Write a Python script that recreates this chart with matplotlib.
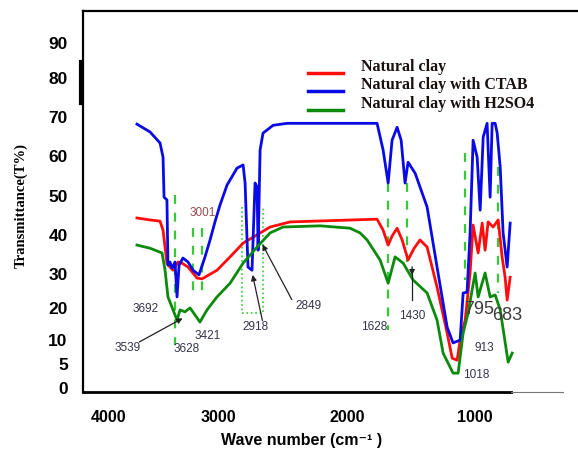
import matplotlib
matplotlib.use("Agg")
import matplotlib.pyplot as plt
from matplotlib.lines import Line2D

# FTIR spectra (wavenumber cm-1, transmittance %)
ctab_x = [3667, 3563, 3484, 3460, 3452, 3429, 3421, 3405, 3389, 3365, 3349, 3333,
          3302, 3262, 3222, 3175, 3127, 3087, 3048, 3008, 2952, 2873, 2825, 2809,
          2786, 2754, 2730, 2714, 2706, 2690, 2667, 2587, 2476, 1762, 1714, 1674,
          1643, 1603, 1571, 1540, 1516, 1460, 1365, 1286, 1206, 1159, 1103, 1079,
          1048, 1024, 1000, 968, 944, 920, 889, 865, 849, 825, 809, 785, 762, 730,
          706]
ctab_y = [68.2, 66.2, 63.4, 59.8, 49.6, 48.9, 32.3, 33.1, 31.5, 33.1, 24.2, 32.3,
          34.1, 33.1, 31.0, 29.8, 34.4, 38.7, 43.3, 47.6, 52.7, 57.0, 57.8, 53.2,
          31.8, 31.0, 53.2, 52.2, 36.1, 61.6, 65.9, 67.9, 68.4, 68.4, 61.6, 53.2,
          64.1, 67.4, 64.1, 53.2, 58.5, 55.7, 47.1, 31.8, 16.5, 12.5, 13.2, 25.2,
          25.4, 40.5, 64.1, 59.8, 46.3, 64.9, 68.4, 49.6, 68.4, 68.4, 65.9, 57.2,
          40.5, 31.8, 43.0]

clay_x = [3667, 3563, 3484, 3460, 3429, 3405, 3381, 3341, 3309, 3262, 3190, 3151,
          3032, 2928, 2825, 2746, 2611, 2452, 1762, 1714, 1674, 1643, 1603, 1563,
          1516, 1468, 1421, 1365, 1286, 1206, 1166, 1127, 1103, 1063, 1024, 1000,
          960, 928, 905, 881, 841, 801, 770, 746, 730, 706]
clay_y = [44.3, 43.8, 43.5, 41.2, 32.8, 31.8, 31.0, 33.1, 32.8, 31.8, 29.0, 28.8,
          31.0, 34.4, 37.9, 39.4, 42.0, 43.3, 44.0, 41.2, 37.4, 39.7, 41.7, 38.7,
          33.6, 36.6, 38.7, 36.9, 26.7, 15.0, 8.6, 8.1, 13.2, 18.3, 30.3, 42.5,
          35.4, 43.0, 36.1, 43.3, 42.0, 43.8, 34.4, 29.2, 23.4, 29.2]

acid_x = [3667, 3563, 3468, 3444, 3421, 3389, 3349, 3325, 3286, 3246, 3206, 3167,
          3111, 3032, 2928, 2825, 2714, 2611, 2508, 2214, 1976, 1897, 1841, 1738,
          1674, 1619, 1555, 1476, 1365, 1286, 1238, 1159, 1119, 1079, 1040, 984,
          960, 905, 865, 825, 785, 722, 690]
acid_y = [37.4, 36.6, 35.4, 31.0, 24.2, 21.6, 18.3, 20.9, 20.4, 21.4, 19.6, 17.8,
          20.9, 24.2, 27.7, 32.8, 36.9, 40.5, 42.0, 42.3, 41.7, 40.5, 38.7, 33.6,
          27.7, 34.4, 32.8, 28.5, 25.2, 18.3, 9.9, 4.8, 4.8, 15.0, 20.1, 30.3,
          24.2, 30.3, 24.2, 24.7, 20.9, 7.6, 9.9]

series_labels = ["Natural clay", "Natural clay with CTAB", "Natural clay with H2SO4"]

# peak labels: text, x, y
peak_text = ["3001", "3692", "3539", "3628", "3421", "2918", "2849", "1628",
             "1430", "913", "1018"]
peak_x = [3143, 3595, 3738, 3270, 3103, 2730, 2309, 1786, 1484, 913, 976]
peak_y = [45.5, 21.1, 11.2, 10.9, 14.2, 16.5, 21.9, 16.5, 19.3, 11.2, 4.3]
big_text = ["795", "683"]
big_x = [952, 730]
big_y = [21.1, 19.6]

# dashed marker lines: x, y from, y to
mark_x = [3365, 3222, 3151, 1674, 1524, 1063, 801]
mark_y0 = [50.1, 41.7, 41.7, 53.2, 53.2, 60.8, 57.2]
mark_y1 = [12.0, 24.7, 24.7, 15.8, 33.1, 28.5, 25.2]

xtick_pos = [3890, 3020, 2000, 990]
xtick_labels = ["4000", "3000", "2000", "1000"]
ytick_pos = [1.0, 7.1, 13.2, 21.4, 30.0, 39.9, 49.9, 60.1, 70.0, 79.9, 88.8]
ytick_labels = ["0", "5", "10", "20", "30", "40", "50", "60", "70", "80", "90"]

fig = plt.figure(figsize=(5.78, 4.53), dpi=100)
ax = fig.add_axes([0.1436, 0.1347, 0.893, 0.841])

red = "#ff0d0d"
blue = "#0a0ae6"
green = "#0b8a0b"
lime = "#35c935"

for x, y0, y1 in zip(mark_x, mark_y0, mark_y1):
    ax.plot([x, x], [y0, y1], color=lime, lw=1.6, ls=(0, (4, 4)))
# dotted box around the 2918 / 2849 bands
ax.plot([2833, 2833, 2667, 2667], [47.1, 20.1, 20.1, 47.1], color=lime,
        lw=1.2, ls=":")

ax.plot(clay_x, clay_y, color=red, lw=2)
ax.plot(ctab_x, ctab_y, color=blue, lw=2)
ax.plot(acid_x, acid_y, color=green, lw=2)

for t, x, y in zip(peak_text, peak_x, peak_y):
    c = "#9a4a4a" if t == "3001" else "#34344e"
    ax.text(x, y, t, family="Liberation Sans", fontsize=8.5, color=c,
            ha="center", va="center")
for t, x, y in zip(big_text, big_x, big_y):
    ax.text(x, y, t, family="Liberation Sans", fontsize=13, color="#3c3c3c",
            ha="center", va="center")

arrow = dict(arrowstyle="-|>", color="#222222", lw=0.9, mutation_scale=8)
ax.annotate("", xy=(3286, 19.1), xytext=(3667, 12.4), arrowprops=arrow)
ax.annotate("", xy=(2754, 30.5), xytext=(2667, 17.5), arrowprops=arrow)
ax.annotate("", xy=(2682, 38.2), xytext=(2428, 22.9), arrowprops=arrow)
ax.plot([1484, 1484], [23.4, 30.0], color="#222222", lw=0.9)
ax.annotate("", xy=(1484, 29.0), xytext=(1484, 32.6), arrowprops=arrow)

ax.set_xlim(4095, 0)
ax.set_ylim(0, 97)
ax.set_xticks(xtick_pos)
ax.set_xticklabels(xtick_labels)
ax.set_yticks(ytick_pos)
ax.set_yticklabels(ytick_labels)
ax.tick_params(axis="both", length=0)
ax.tick_params(axis="y", pad=11)
ax.tick_params(axis="x", pad=13)
for lab in ax.get_yticklabels():
    lab.set_fontfamily("Liberation Sans")
    lab.set_fontweight("bold")
    lab.set_fontsize(12.5)
for lab in ax.get_xticklabels():
    lab.set_fontfamily("Liberation Sans")
    lab.set_fontweight("bold")
    lab.set_fontsize(11.5)

for s in ["right", "bottom"]:
    ax.spines[s].set_visible(False)
ax.spines["left"].set_linewidth(1.6)
ax.spines["top"].set_linewidth(1.6)
# bottom axis line: heavy part then a thin tail
ax.plot([0, 0.829], [0, 0], transform=ax.transAxes, color="black", lw=2,
        clip_on=False)
ax.plot([0.829, 0.93], [0, 0], transform=ax.transAxes, color="#777777",
        lw=0.8, clip_on=False)
ax.plot([-0.003, -0.003], [0.759, 0.866], transform=ax.transAxes,
        color="black", lw=3, clip_on=False)

ax.set_ylabel("Transmittance(T%)", family="Liberation Serif",
              fontweight="bold", fontsize=10.5)
ax.yaxis.set_label_coords(-0.107, 0.49)
ax.set_xlabel("Wave number (cm\u207b\u00b9 )",
              family=["Liberation Sans", "DejaVu Sans"], fontweight="bold",
              fontsize=11.5)
ax.xaxis.set_label_coords(0.424, -0.108)

# legend drawn by hand to sit where the original one sits
leg_y = [73, 91, 110]
for lbl, col, ly in zip(series_labels, [red, blue, green], leg_y):
    fy = 1 - ly / 453
    fig.add_artist(Line2D([308 / 578, 343 / 578], [fy, fy], color=col, lw=2.5))
    fig.text(361 / 578, 1 - (ly - 6) / 453, lbl, family="Liberation Serif",
             fontweight="bold", fontsize=11.5, color="#1a1010", va="center")

fig.savefig("out.png", dpi=100)
